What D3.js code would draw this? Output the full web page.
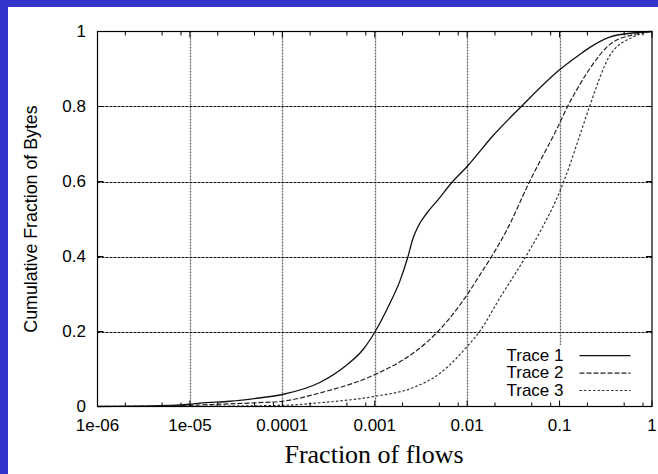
<!DOCTYPE html>
<html><head><meta charset="utf-8">
<script src="https://cdn.jsdelivr.net/npm/d3@7"></script>
<style>
html,body{margin:0;padding:0;background:#fff;}
svg{display:block;}
</style></head>
<body>
<svg id="chart" width="658" height="474"></svg>
<script>
// ---- data ----
const xTickValues = [1e-6, 1e-5, 1e-4, 1e-3, 1e-2, 1e-1, 1];
const xTickLabels = ["1e-06", "1e-05", "0.0001", "0.001", "0.01", "0.1", "1"];
const xMinorMultipliers = [2, 5, 8];
const yTickValues = [0, 0.2, 0.4, 0.6, 0.8, 1];
const yTickLabels = ["0", "0.2", "0.4", "0.6", "0.8", "1"];
const seriesNames = ["Trace 1", "Trace 2", "Trace 3"];

const trace1X = [1e-6, 3.4e-6, 1e-5, 1.28e-5, 2.7e-5, 5.26e-5, 1e-4, 2.54e-4, 4.94e-4, 7.48e-4, 1e-3, 1.45e-3, 1.86e-3, 2.29e-3, 2.59e-3, 2.94e-3, 3.62e-3, 4.83e-3, 6.75e-3, 1e-2, 0.019, 0.0385, 0.1, 0.164, 0.211, 0.348, 0.615, 1];
const trace1Y = [0, 0.001, 0.006, 0.009, 0.014, 0.022, 0.032, 0.064, 0.11, 0.152, 0.198, 0.274, 0.333, 0.4, 0.448, 0.48, 0.514, 0.551, 0.596, 0.64, 0.722, 0.8, 0.898, 0.938, 0.957, 0.985, 0.996, 1];

const trace2X = [1e-6, 1e-5, 1.28e-5, 5.26e-5, 1e-4, 2.54e-4, 1e-3, 2.59e-3, 4.83e-3, 8.3e-3, 1e-2, 0.01365, 0.0184, 0.0265, 0.0474, 0.1, 0.122, 0.164, 0.211, 0.348, 0.615, 1];
const trace2Y = [0, 0.003, 0.004, 0.01, 0.014, 0.036, 0.085, 0.142, 0.2, 0.27, 0.298, 0.35, 0.4, 0.468, 0.6, 0.755, 0.8, 0.857, 0.9, 0.965, 0.991, 1];

const trace3X = [1e-6, 1e-5, 1e-4, 2.54e-4, 1e-3, 2.59e-3, 5.05e-3, 1e-2, 0.01365, 0.0224, 0.0419, 0.066, 0.1, 0.113, 0.164, 0.211, 0.348, 0.615, 1];
const trace3Y = [0, 0.0005, 0.003, 0.01, 0.027, 0.05, 0.088, 0.16, 0.2, 0.288, 0.395, 0.48, 0.572, 0.605, 0.72, 0.8, 0.935, 0.985, 1];

// ---- layout ----
const svg = d3.select("#chart");
const L = 97.5, R = 652, T = 31.5, B = 406.5;
const x = d3.scaleLog().domain([1e-6, 1]).range([L, R]);
const y = d3.scaleLinear().domain([0, 1]).range([B, T]);

// blue border bands
svg.append("rect").attr("x", 0).attr("y", 0).attr("width", 658).attr("height", 7).attr("fill", "#3333cc");
svg.append("rect").attr("x", 0).attr("y", 0).attr("width", 8).attr("height", 474).attr("fill", "#3333cc");

// grid
const gGrid = svg.append("g");
gGrid.selectAll("line.v").data(xTickValues.slice(1, -1)).join("line")
  .attr("x1", d => Math.round(x(d)) + 0.5).attr("x2", d => Math.round(x(d)) + 0.5)
  .attr("y1", T).attr("y2", B)
  .attr("stroke", "#666").attr("stroke-width", 1.3).attr("stroke-dasharray", "2,1");
gGrid.selectAll("line.h").data(yTickValues.slice(1, -1)).join("line")
  .attr("x1", L).attr("x2", R)
  .attr("y1", d => Math.round(y(d)) + 0.5).attr("y2", d => Math.round(y(d)) + 0.5)
  .attr("stroke", "#111").attr("stroke-width", 1).attr("stroke-dasharray", "3,1");

// legend background (key box clears grid)
svg.append("rect").attr("x", 496).attr("y", 345).attr("width", R - 496 - 1).attr("height", B - 345 - 1).attr("fill", "#fff");

// curves
const series = [
  {name: seriesNames[0], xs: trace1X, ys: trace1Y, dash: null, color: "#111", w: 1.3},
  {name: seriesNames[1], xs: trace2X, ys: trace2Y, dash: "5,2", color: "#222", w: 1.2},
  {name: seriesNames[2], xs: trace3X, ys: trace3Y, dash: "2.5,2", color: "#333", w: 1.2}
];
const line = d3.line().x(d => x(d[0])).y(d => y(d[1])).curve(d3.curveMonotoneX);
series.forEach(s => {
  const pts = s.xs.map((v, i) => [v, s.ys[i]]);
  svg.append("path").datum(pts).attr("d", line)
    .attr("fill", "none").attr("stroke", s.color).attr("stroke-width", s.w)
    .attr("stroke-dasharray", s.dash);
});

// frame
svg.append("rect").attr("x", L).attr("y", T).attr("width", R - L).attr("height", B - T)
  .attr("fill", "none").attr("stroke", "#000").attr("stroke-width", 1.2);

// ticks
const minorVals = [];
xTickValues.slice(0, -1).forEach(d => xMinorMultipliers.forEach(m => minorVals.push(d * m)));
const gT = svg.append("g").attr("stroke", "#000").attr("stroke-width", 1);
const majorLen = 6, minorLen = 4;
[[xTickValues, majorLen], [minorVals, minorLen]].forEach(([vals, len]) => {
  gT.selectAll(null).data(vals).join("line")
    .attr("x1", d => x(d)).attr("x2", d => x(d)).attr("y1", B).attr("y2", B - len);
  gT.selectAll(null).data(vals).join("line")
    .attr("x1", d => x(d)).attr("x2", d => x(d)).attr("y1", T).attr("y2", T + len);
});
gT.selectAll(null).data(yTickValues).join("line")
  .attr("x1", L).attr("x2", L + majorLen).attr("y1", d => y(d)).attr("y2", d => y(d));
gT.selectAll(null).data(yTickValues).join("line")
  .attr("x1", R).attr("x2", R - majorLen).attr("y1", d => y(d)).attr("y2", d => y(d));

// tick labels
const tickFont = "'Liberation Sans', Arial, Helvetica, sans-serif";
svg.append("g").selectAll("text").data(xTickValues).join("text")
  .attr("x", d => x(d)).attr("y", 431).attr("text-anchor", "middle")
  .attr("font-family", tickFont).attr("font-size", 17).attr("fill", "#000")
  .text((d, i) => xTickLabels[i]);
svg.append("g").selectAll("text").data(yTickValues).join("text")
  .attr("x", 86).attr("y", d => y(d) + 5.8).attr("text-anchor", "end")
  .attr("font-family", tickFont).attr("font-size", 17).attr("fill", "#000")
  .text((d, i) => yTickLabels[i]);

// axis titles
svg.append("text").attr("transform", "translate(36.5,219) rotate(-90)")
  .attr("text-anchor", "middle").attr("font-family", tickFont).attr("font-size", 17.8)
  .attr("fill", "#000").text("Cumulative Fraction of Bytes");
svg.append("text").attr("x", 374).attr("y", 463).attr("text-anchor", "middle")
  .attr("font-family", "'Liberation Serif', 'Times New Roman', serif").attr("font-size", 26)
  .attr("fill", "#000").text("Fraction of flows");

// legend
const legY0 = 361, legDy = 17.4;
series.forEach((s, i) => {
  const by = legY0 + i * legDy;
  svg.append("text").attr("x", 563.5).attr("y", by).attr("text-anchor", "end")
    .attr("font-family", tickFont).attr("font-size", 17).attr("fill", "#000").text(s.name);
  svg.append("line").attr("x1", 579.5).attr("x2", 630.5).attr("y1", by - 5.3).attr("y2", by - 5.3)
    .attr("stroke", s.color).attr("stroke-width", s.w).attr("stroke-dasharray", s.dash);
});
</script>
</body></html>
